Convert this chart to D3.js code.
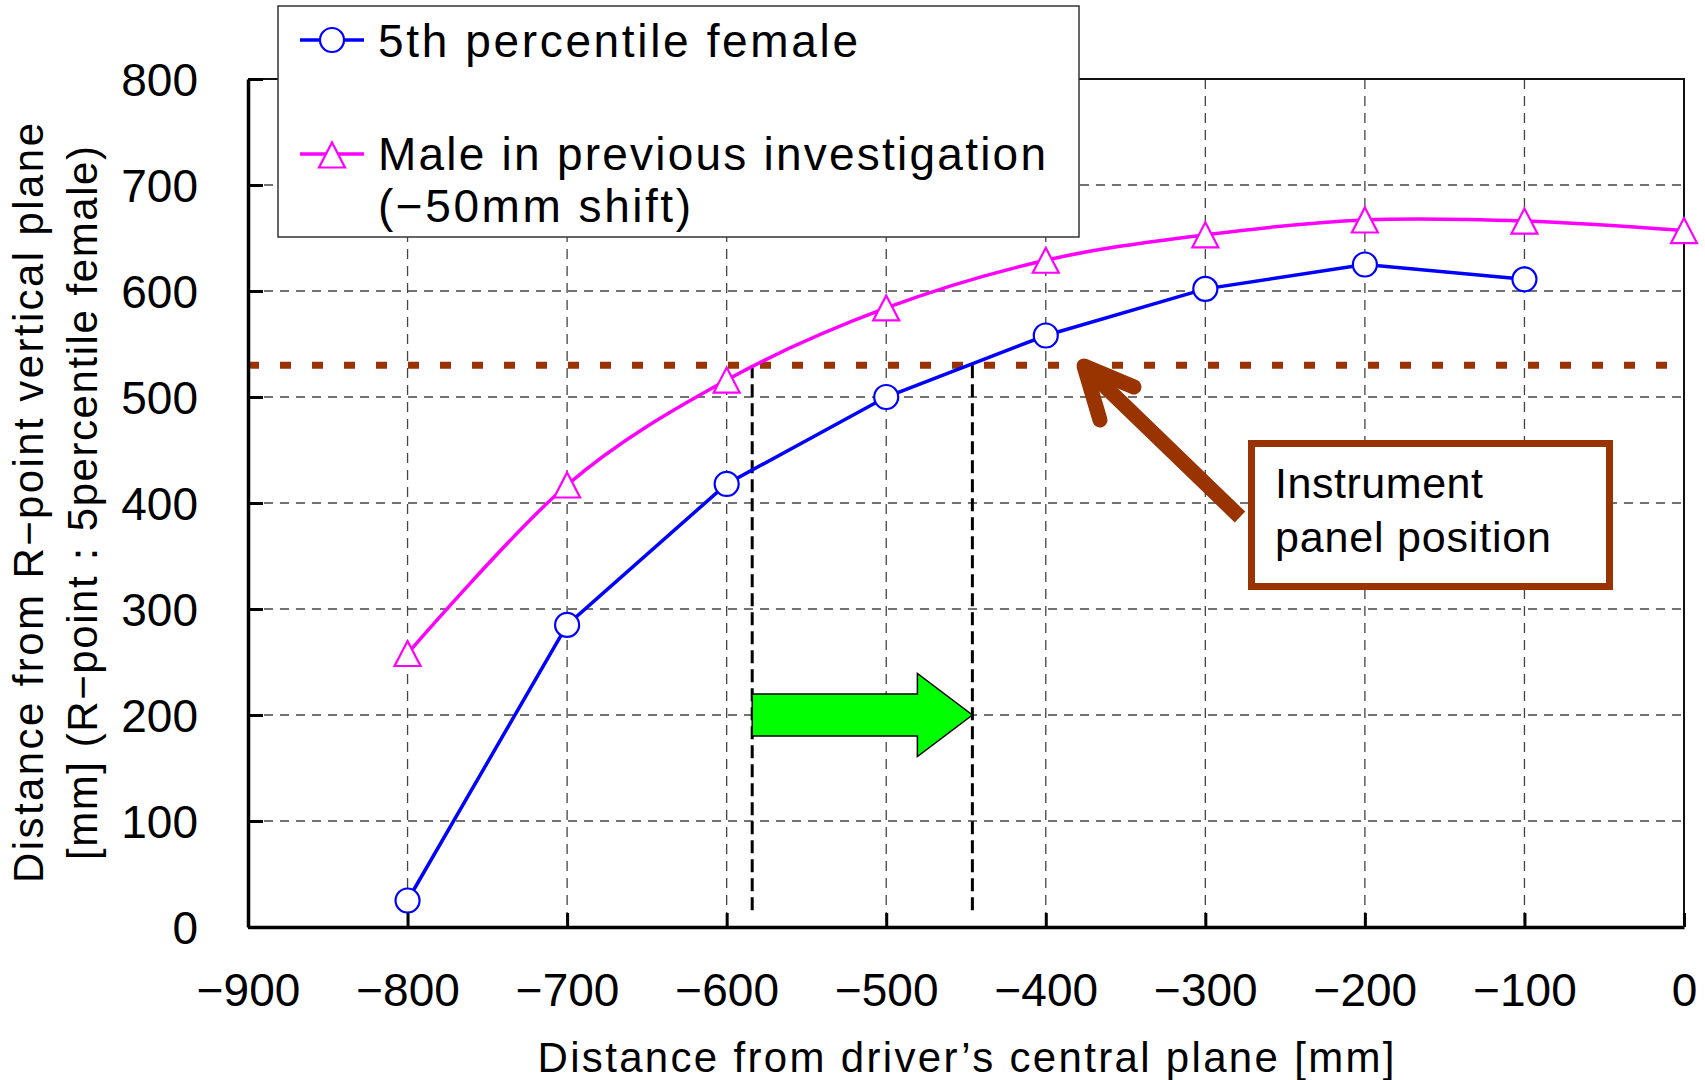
<!DOCTYPE html>
<html>
<head>
<meta charset="utf-8">
<script src="https://cdn.jsdelivr.net/npm/d3@7"></script>
<style>
  body { margin: 0; background: #fff; }
  svg { display: block; font-family: "Liberation Sans", Arial, sans-serif; }
</style>
</head>
<body>
<div id="chart"></div>
<script>
// values
const xTicks = [-900, -800, -700, -600, -500, -400, -300, -200, -100, 0];
const yTicks = [0, 100, 200, 300, 400, 500, 600, 700, 800];

const femaleX = [-800, -700, -600, -500, -400, -300, -200, -100];
const femaleY = [25, 285, 418, 500, 558, 602, 625, 611];

const maleX = [-800, -700, -600, -500, -400, -300, -200, -100, 0];
const maleY = [258, 417, 516, 584, 629, 653, 667, 666, 657];

const panelLevel = 530;           // instrument panel position
const shiftFrom = -584, shiftTo = -446;
const shiftArrowLevel = 200;

const seriesNames = ["5th percentile female", "Male in previous investigation", "(\u221250mm shift)"];

(function () {
    const W = 1705, H = 1080;
    const margin = { top: 79, right: 21, bottom: 153, left: 248 };
    const x0 = margin.left, x1 = W - margin.right;
    const yTop = margin.top, yBot = H - margin.bottom;

    const x = d3.scaleLinear().domain([-900, 0]).range([x0, x1]);
    const y = d3.scaleLinear().domain([0, 800]).range([yBot, yTop]);

    const svg = d3.select("#chart").append("svg")
        .attr("width", W)
        .attr("height", H);

    const fmt = d => d < 0 ? "\u2212" + Math.abs(d) : String(d);

    // grid
    svg.append("g")
        .selectAll("line")
        .data(yTicks.filter(d => d > 0 && d < 800))
        .join("line")
        .attr("x1", x0).attr("x2", x1)
        .attr("y1", d => y(d)).attr("y2", d => y(d))
        .attr("stroke", "#444").attr("stroke-width", 1.3)
        .attr("stroke-dasharray", "9 7");
    svg.append("g")
        .selectAll("line")
        .data(xTicks.filter(d => d > -900 && d < 0))
        .join("line")
        .attr("x1", d => x(d)).attr("x2", d => x(d))
        .attr("y1", yTop).attr("y2", yBot)
        .attr("stroke", "#444").attr("stroke-width", 1.3)
        .attr("stroke-dasharray", "10 7");

    // top and right frame
    svg.append("path")
        .attr("d", `M${x0},${yTop}H${x1}V${yBot}`)
        .attr("fill", "none").attr("stroke", "#111").attr("stroke-width", 2);

    // panel level (dotted brown)
    svg.append("line")
        .attr("x1", x(-900)).attr("x2", x(0))
        .attr("y1", y(panelLevel)).attr("y2", y(panelLevel))
        .attr("stroke", "#993300").attr("stroke-width", 7)
        .attr("stroke-dasharray", "11 21");

    // black dashed verticals where the curves meet the panel level
    svg.append("g")
        .selectAll("line")
        .data([shiftFrom, shiftTo])
        .join("line")
        .attr("x1", d => x(d)).attr("x2", d => x(d))
        .attr("y1", y(panelLevel)).attr("y2", y(14))
        .attr("stroke", "#000").attr("stroke-width", 3)
        .attr("stroke-dasharray", "13 6");

    // series lines
    const maleData = maleX.map((v, i) => [v, maleY[i]]);
    const femaleData = femaleX.map((v, i) => [v, femaleY[i]]);

    svg.append("path")
        .datum(maleData)
        .attr("fill", "none")
        .attr("stroke", "#ff00ff").attr("stroke-width", 3.5)
        .attr("d", d3.line().x(d => x(d[0])).y(d => y(d[1])).curve(d3.curveCardinal.tension(0)));

    svg.append("path")
        .datum(femaleData)
        .attr("fill", "none")
        .attr("stroke", "#0000ff").attr("stroke-width", 3.5)
        .attr("d", d3.line().x(d => x(d[0])).y(d => y(d[1])));

    const tri = "M0,-12.5L13,12.5L-13,12.5Z";

    svg.append("g")
        .selectAll("path")
        .data(maleData)
        .join("path")
        .attr("d", tri)
        .attr("transform", d => `translate(${x(d[0])},${y(d[1])})`)
        .attr("fill", "#fff").attr("stroke", "#ff00ff").attr("stroke-width", 2.2);

    svg.append("g")
        .selectAll("circle")
        .data(femaleData)
        .join("circle")
        .attr("cx", d => x(d[0])).attr("cy", d => y(d[1]))
        .attr("r", 12)
        .attr("fill", "#fff").attr("stroke", "#0000ff").attr("stroke-width", 2.2);

    // green shift arrow
    const ax0 = x(shiftFrom), ax1 = x(shiftTo), ay = y(shiftArrowLevel);
    const headW = 55;
    svg.append("path")
        .attr("d", `M${ax0},${ay - 21}H${ax1 - headW}V${ay - 41.5}L${ax1},${ay}L${ax1 - headW},${ay + 41.5}V${ay + 21}H${ax0}Z`)
        .attr("fill", "#00ff00").attr("stroke", "#000").attr("stroke-width", 1.5)
        .attr("stroke-linejoin", "miter");

    // brown pointer arrow
    const tip = [1084, 366];
    svg.append("line")
        .attr("x1", 1240).attr("y1", 517)
        .attr("x2", tip[0] + 6).attr("y2", tip[1] + 6)
        .attr("stroke", "#993300").attr("stroke-width", 15);
    svg.append("path")
        .attr("d", `M1134,387L${tip[0]},${tip[1]}L1100,420`)
        .attr("fill", "none")
        .attr("stroke", "#993300").attr("stroke-width", 15)
        .attr("stroke-linecap", "round").attr("stroke-linejoin", "round");

    // annotation box
    svg.append("rect")
        .attr("x", 1251.5).attr("y", 443.5)
        .attr("width", 358).attr("height", 143)
        .attr("fill", "#fff").attr("stroke", "#993300").attr("stroke-width", 7);
    svg.append("text")
        .attr("x", 1275).attr("y", 498)
        .attr("font-size", 43).attr("textLength", 208).attr("lengthAdjust", "spacing")
        .text("Instrument");
    svg.append("text")
        .attr("x", 1275).attr("y", 552)
        .attr("font-size", 43).attr("textLength", 276).attr("lengthAdjust", "spacing")
        .text("panel position");

    // axes
    const yAxis = svg.append("g")
        .attr("transform", `translate(${x0},0)`)
        .call(d3.axisLeft(y).tickValues(yTicks).tickSize(-15).tickSizeOuter(0).tickPadding(50).tickFormat(fmt));
    yAxis.select(".domain").attr("stroke-width", 3.5);
    yAxis.selectAll(".tick line").attr("stroke-width", 3);
    yAxis.selectAll(".tick text")
        .attr("font-family", "Liberation Sans, Arial, sans-serif")
        .attr("font-size", 46).attr("dy", "0.36em");

    const xAxis = svg.append("g")
        .attr("transform", `translate(0,${yBot})`)
        .call(d3.axisBottom(x).tickValues(xTicks).tickSize(-14).tickSizeOuter(0).tickPadding(46).tickFormat(fmt));
    xAxis.select(".domain").attr("stroke-width", 3.5);
    xAxis.selectAll(".tick line").attr("stroke-width", 3);
    xAxis.selectAll(".tick text")
        .attr("font-family", "Liberation Sans, Arial, sans-serif")
        .attr("font-size", 46).attr("dy", "0.71em");

    // axis titles
    svg.append("text")
        .attr("x", (x0 + x1) / 2).attr("y", 1072)
        .attr("text-anchor", "middle")
        .attr("font-size", 42).attr("textLength", 857).attr("lengthAdjust", "spacing")
        .text("Distance from driver\u2019s central plane [mm]");

    const yMid = (yTop + yBot) / 2;
    svg.append("text")
        .attr("transform", `translate(43,${yMid}) rotate(-90)`)
        .attr("text-anchor", "middle")
        .attr("font-size", 42).attr("textLength", 760).attr("lengthAdjust", "spacing")
        .text("Distance from R\u2212point vertical plane");
    svg.append("text")
        .attr("transform", `translate(97,${yMid}) rotate(-90)`)
        .attr("text-anchor", "middle")
        .attr("font-size", 42).attr("textLength", 714).attr("lengthAdjust", "spacing")
        .text("[mm] (R\u2212point\uFF1A5percentile female)");

    // legend
    const lg = svg.append("g");
    lg.append("rect")
        .attr("x", 278).attr("y", 6).attr("width", 801).attr("height", 231)
        .attr("fill", "#fff").attr("stroke", "#333").attr("stroke-width", 1.5);
    lg.append("line")
        .attr("x1", 300).attr("x2", 364).attr("y1", 40).attr("y2", 40)
        .attr("stroke", "#0000ff").attr("stroke-width", 3.5);
    lg.append("circle")
        .attr("cx", 332).attr("cy", 40).attr("r", 12)
        .attr("fill", "#fff").attr("stroke", "#0000ff").attr("stroke-width", 2.2);
    lg.append("line")
        .attr("x1", 300).attr("x2", 364).attr("y1", 154).attr("y2", 154)
        .attr("stroke", "#ff00ff").attr("stroke-width", 3.5);
    lg.append("path")
        .attr("d", tri).attr("transform", "translate(332,155)")
        .attr("fill", "#fff").attr("stroke", "#ff00ff").attr("stroke-width", 2.2);

    const legendText = [
        { t: seriesNames[0], y: 57, w: 480 },
        { t: seriesNames[1], y: 170, w: 668 },
        { t: seriesNames[2], y: 222, w: 313 }
    ];
    lg.selectAll("text.lt")
        .data(legendText)
        .join("text")
        .attr("class", "lt")
        .attr("x", 378).attr("y", d => d.y)
        .attr("font-size", 46)
        .attr("textLength", d => d.w).attr("lengthAdjust", "spacing")
        .text(d => d.t);
})();
</script>
</body>
</html>
